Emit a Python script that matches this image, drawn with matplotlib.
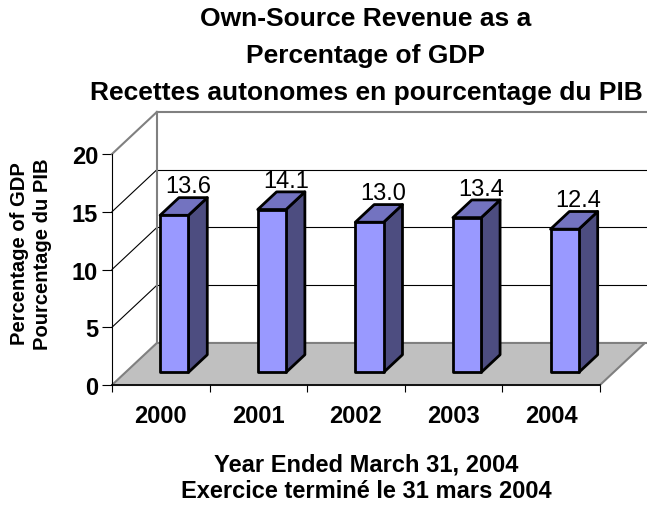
import matplotlib
matplotlib.use('Agg')
import matplotlib.pyplot as plt
from matplotlib.patches import Polygon, Rectangle

plt.rcParams['font.family'] = ['Liberation Sans', 'DejaVu Sans']

years = ['2000', '2001', '2002', '2003', '2004']
values = [13.6, 14.1, 13.0, 13.4, 12.4]
value_labels = ['13.6', '14.1', '13.0', '13.4', '12.4']
y_ticks = [0, 5, 10, 15, 20]

title_lines = ['Own-Source Revenue as a', 'Percentage of GDP',
               'Recettes autonomes en pourcentage du PIB']
ylabel_lines = ['Percentage of GDP', 'Pourcentage du PIB']
xlabel_lines = ['Year Ended March 31, 2004', 'Exercice terminé le 31 mars 2004']

# fake 3D depth (data units)
DX = 0.46
DY = 3.64
F1 = 0.30   # bar front depth
F2 = 0.72   # bar back depth
BW = 0.29   # bar width

W, H = 647, 506
fig = plt.figure(figsize=(W / 100, H / 100), dpi=100)
ax = fig.add_axes([112 / W, (H - 386) / H, 488 / W, 231 / H])
ax.set_xlim(-0.5, 4.5)
ax.set_ylim(0, 20)
for s in ax.spines.values():
    s.set_visible(False)
ax.patch.set_visible(False)

n = len(years)
x_left, x_right = -0.5, n - 0.5
far_right = x_right + DX + 2

# floor
floor = Polygon([(x_left, 0), (x_right, 0), (x_right + DX, DY), (x_left + DX, DY)],
                closed=True, facecolor='#C0C0C0', edgecolor='#808080', lw=1.5,
                clip_on=False, zorder=1)
ax.add_patch(floor)
ax.plot([x_right + DX, far_right], [DY, DY], color='#808080', lw=1.5,
        clip_on=False, zorder=1)

# walls + gridlines
for v in y_ticks[1:]:
    c = '#808080' if v == 20 else 'black'
    lw = 1.5 if v == 20 else 0.8
    ax.plot([x_left, x_left + DX], [v, v + DY], color=c, lw=lw, clip_on=False, zorder=2)
    ax.plot([x_left + DX, far_right], [v + DY, v + DY], color=c, lw=lw,
            clip_on=False, zorder=2)
ax.plot([x_left + DX, x_left + DX], [DY, 20 + DY], color='#808080', lw=1.5,
        clip_on=False, zorder=2)

# axis lines
ax.plot([x_left, x_left], [0, 20], color='black', lw=0.8, clip_on=False, zorder=3)
ax.plot([x_left, x_right], [0, 0], color='black', lw=1.2, clip_on=False, zorder=3)

# bars
for i, v in enumerate(values):
    x0 = i - BW / 2 + F1 * DX
    y0 = F1 * DY
    d = F2 - F1
    side = Polygon([(x0 + BW, y0), (x0 + BW + d * DX, y0 + d * DY),
                    (x0 + BW + d * DX, y0 + v + d * DY), (x0 + BW, y0 + v)],
                   closed=True, facecolor='#4D4D80', edgecolor='black', lw=2,
                   joinstyle='round', clip_on=False, zorder=4)
    top = Polygon([(x0, y0 + v), (x0 + BW, y0 + v), (x0 + BW + d * DX, y0 + v + d * DY),
                   (x0 + d * DX, y0 + v + d * DY)],
                  closed=True, facecolor='#7373C0', edgecolor='black', lw=2,
                  joinstyle='round', clip_on=False, zorder=4)
    front = Rectangle((x0, y0), BW, v, facecolor='#9999FF', edgecolor='black', lw=2,
                      joinstyle='round', clip_on=False, zorder=5)
    ax.add_patch(side)
    ax.add_patch(top)
    ax.add_patch(front)
    ax.text(i + 0.28, v + F2 * DY + 0.45, value_labels[i], ha='center', va='baseline',
            fontsize=17, zorder=6)

# ticks
ax.set_yticks(y_ticks)
ax.set_yticklabels([str(t) for t in y_ticks], fontsize=17, fontweight='bold')
ax.tick_params(axis='y', direction='out', length=7, width=0.8, pad=3)
ax.set_xticks(range(n))
ax.set_xticklabels(years, fontsize=17, fontweight='bold')
ax.tick_params(axis='x', which='major', length=0, pad=14)
ax.set_xticks([k - 0.5 for k in range(n + 1)], minor=True)
ax.tick_params(axis='x', which='minor', direction='out', length=5, width=0.8)

# titles
for k, line in enumerate(title_lines):
    fig.text(366 / W, 1 - (19 + 37 * k) / H, line, ha='center', va='center',
             fontsize=19, fontweight='bold')
for k, line in enumerate(ylabel_lines):
    fig.text((20 + 23 * k) / W, 1 - 254 / H, line, ha='center', va='center',
             rotation=90, fontsize=14.5, fontweight='bold')
for k, line in enumerate(xlabel_lines):
    fig.text(366 / W, 1 - (465 + 27 * k) / H, line, ha='center', va='center',
             fontsize=17, fontweight='bold')

fig.savefig('out.png', dpi=100)
